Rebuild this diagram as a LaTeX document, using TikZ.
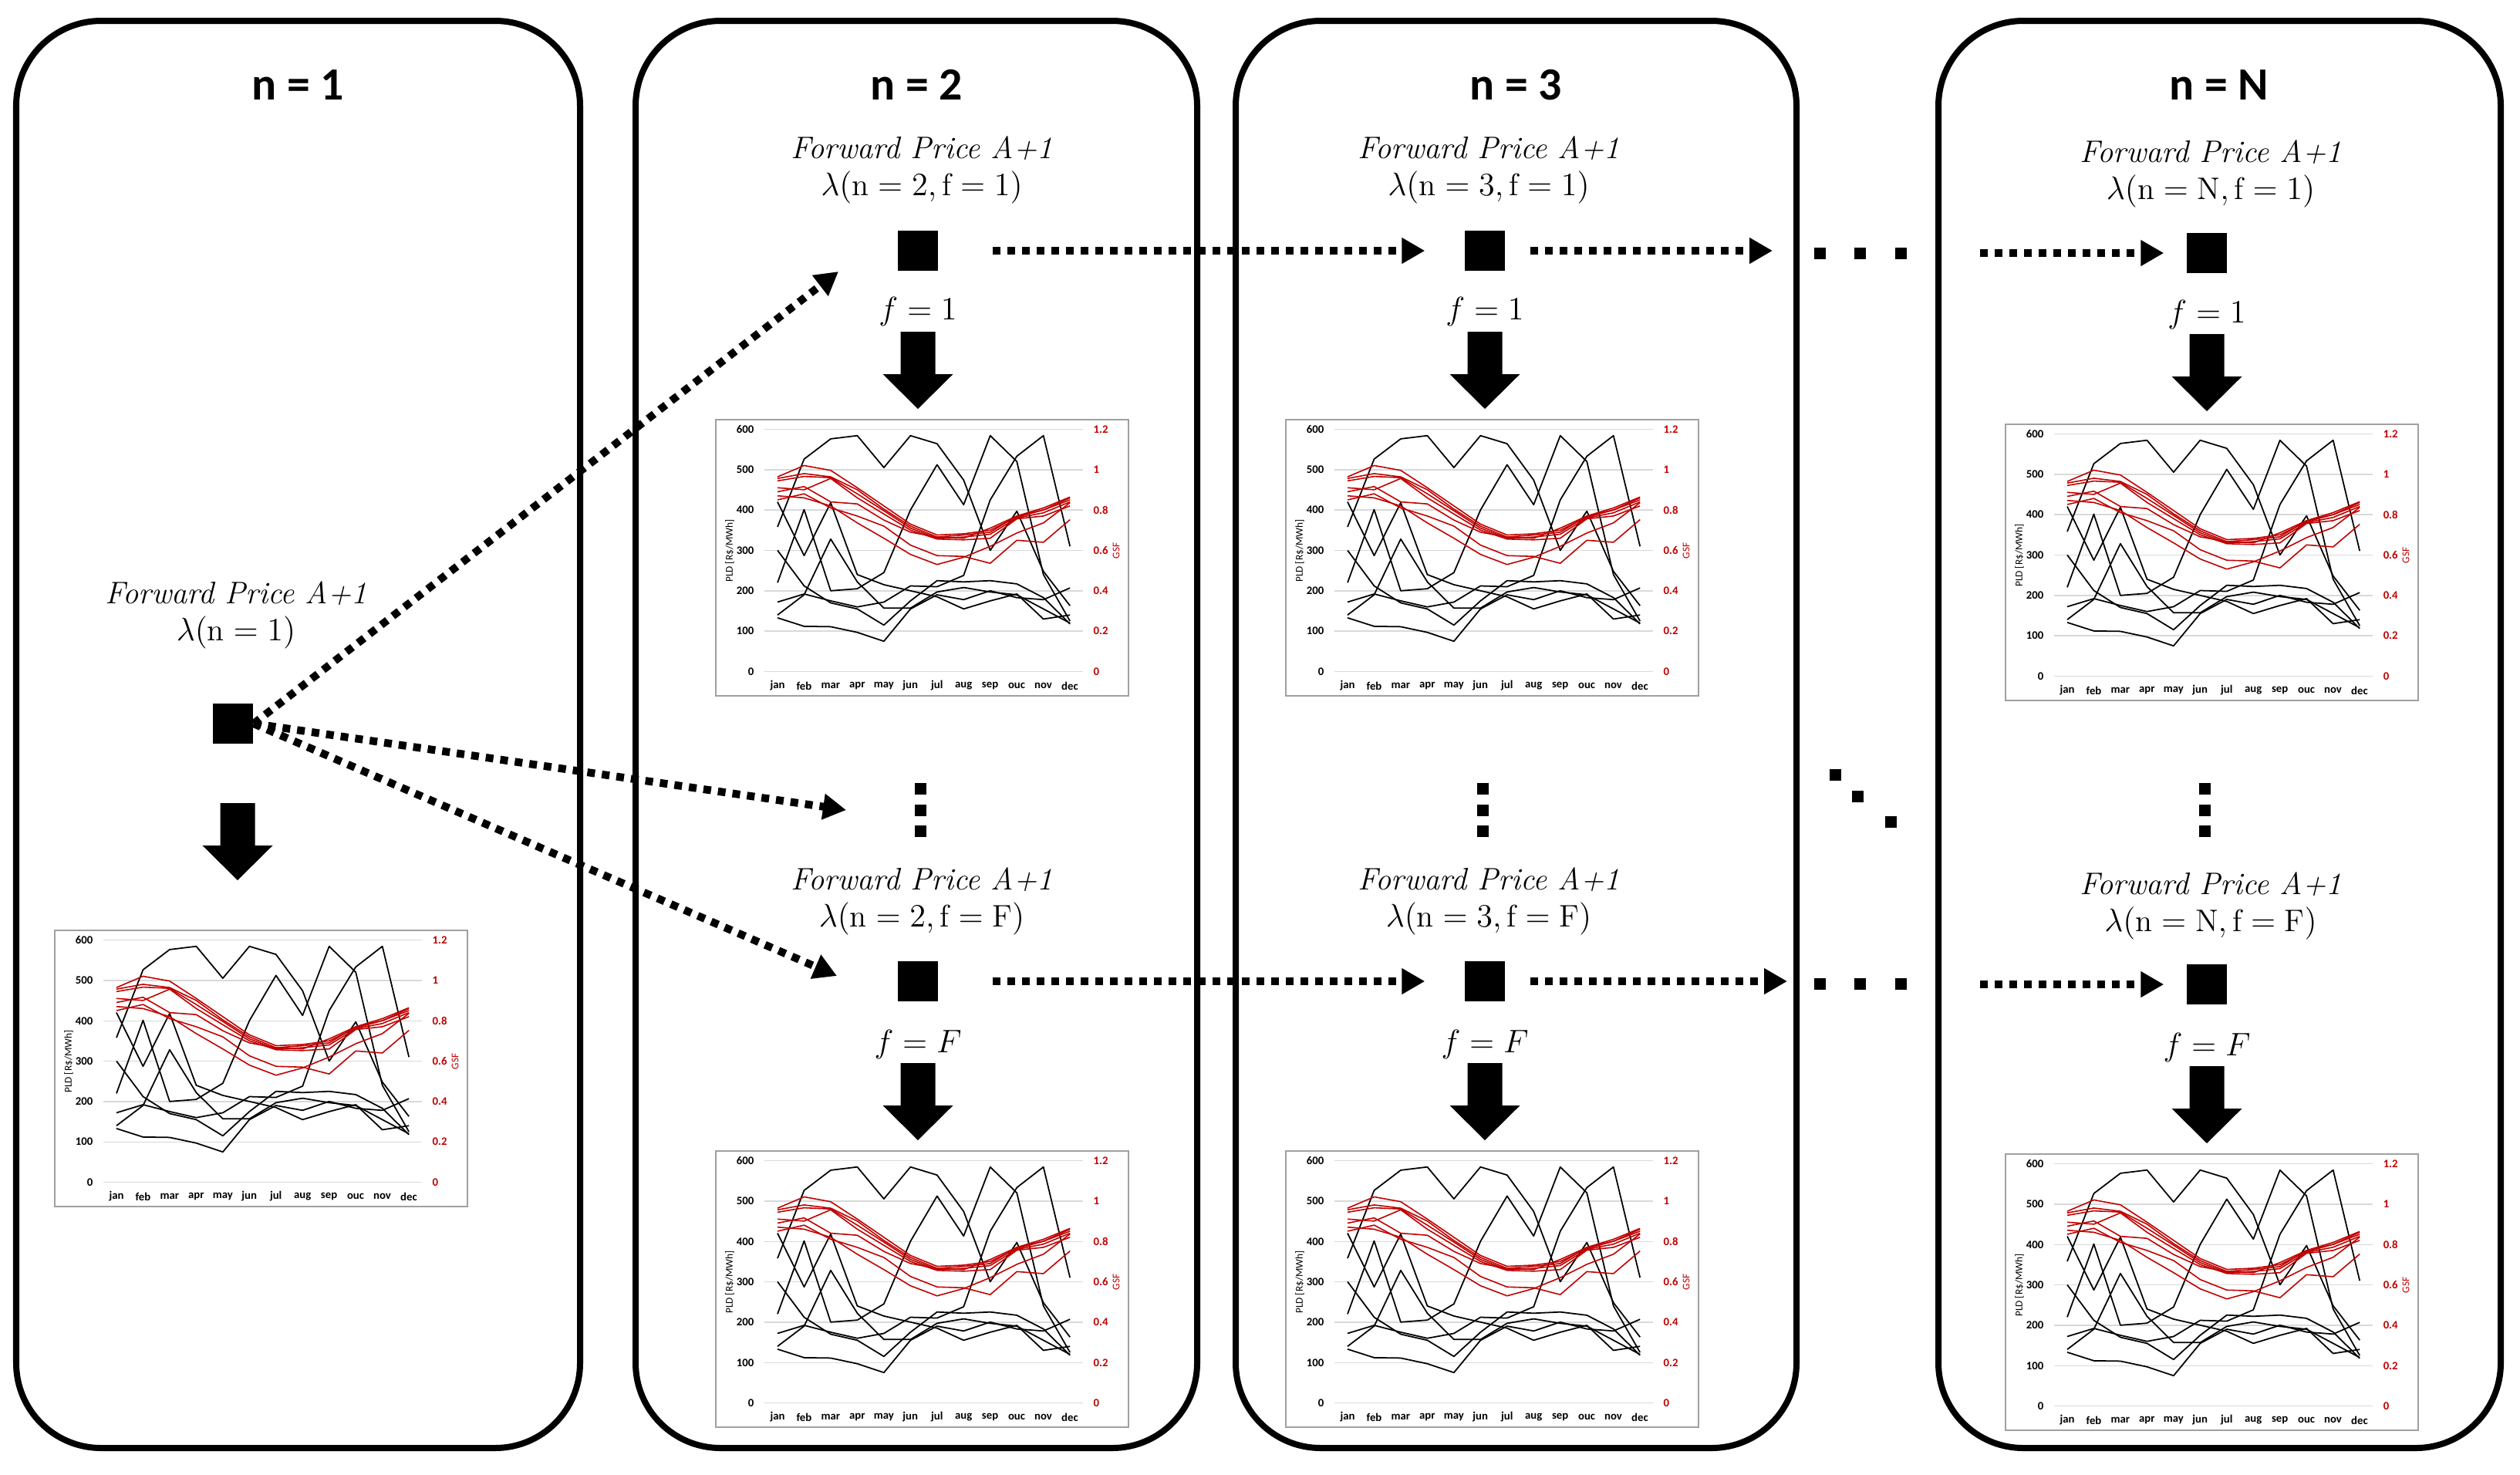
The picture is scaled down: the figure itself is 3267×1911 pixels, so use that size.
\documentclass[tikz,border=0pt]{standalone}
\usepackage{amsmath}
\usepackage{fontspec}
\newfontfamily\chartfont{Carlito}
\usetikzlibrary{arrows.meta, positioning}

\definecolor{gsfred}{RGB}{192,0,0}
\definecolor{gridgray}{RGB}{217,217,217}
\definecolor{framegray}{RGB}{160,160,160}

\newcommand{\blockdown}[2]{%
    \fill ({#1-22.5},#2) -- ({#1+22.5},#2) -- ({#1+22.5},{#2+55}) -- ({#1+45.5},{#2+55})
        -- (#1,{#2+100}) -- ({#1-45.5},{#2+55}) -- ({#1-22.5},{#2+55}) -- cycle;}

\newcommand{\gsfchart}[2]{%
    \begin{scope}[shift={(#1,#2)}]
        \fill[white] (0,0) rectangle (535,358);
        \foreach \val/\gsf in {0/0,100/0.2,200/0.4,300/0.6,400/0.8,500/1,600/1.2} {
            \draw[grid line] (63,{326.5-0.5233*\val}) -- (476,{326.5-0.5233*\val});
            \node[tick label, anchor=east] at (50,{326.5-0.5233*\val}) {\val};
            \node[tick label, text=gsfred, anchor=west] at (489,{326.5-0.5233*\val}) {\gsf};
        }
        \foreach \mon [count=\k from 0] in {jan,feb,mar,apr,may,jun,jul,aug,sep,ouc,nov,dec}
            \node[tick label] at ({80+34.45*\k},345) {\mon};
        \node[axis title, rotate=90] at (18,170) {PLD [R\$/MWh]};
        \node[axis title, text=gsfred, rotate=90] at (519,170) {GSF};
        \begin{scope}[shift={(80,326.5)}, x=0.3445cm, y=0.005233cm]
            \foreach \ja/\fe/\mr/\ap/\my/\jn/\jl/\au/\se/\oc/\nv/\dc in {
                358/526/576/584/505/584/564/474/300/397/248/163,
                220/401/200/205/245/400/512/413/584/520/240/125,
                420/287/418/240/215/200/185/155/175/192/130/140,
                300/212/170/155/115/175/225/222/225/217/183/118,
                172/192/175/160/172/212/210/238/425/533/584/310,
                140/190/328/222/157/157/197/208/197/190/155/120,
                133/112/111/97/75/155/190/178/200/183/178/207}
                \draw[pld line] (0,\ja) -- (1,\fe) -- (2,\mr) -- (3,\ap) -- (4,\my) -- (5,\jn)
                    -- (6,\jl) -- (7,\au) -- (8,\se) -- (9,\oc) -- (10,\nv) -- (11,\dc);
            \foreach \ja/\fe/\mr/\ap/\my/\jn/\jl/\au/\se/\oc/\nv/\dc in {
                482/510/498/455/410/365/338/341/350/382/400/430,
                478/490/482/450/402/360/333/338/345/385/400/425,
                472/483/480/440/398/355/330/333/340/380/393/420,
                455/450/478/430/390/350/328/326/330/378/385/410,
                445/458/420/415/375/345/333/330/355/385/405/432,
                435/430/410/368/330/290/265/283/310/343/368/418,
                425/440/405/385/360/313/287/285/268/325/320/376}
                \draw[gsf line] (0,\ja) -- (1,\fe) -- (2,\mr) -- (3,\ap) -- (4,\my) -- (5,\jn)
                    -- (6,\jl) -- (7,\au) -- (8,\se) -- (9,\oc) -- (10,\nv) -- (11,\dc);
        \end{scope}
        \draw[chart frame] (0,0) rectangle (535,358);
    \end{scope}}

\begin{document}
\begin{tikzpicture}[
        x=0.01cm, y=-0.01cm,
        stage box/.style={line width=0.08cm, rounded corners=1.1cm},
        stage title/.style={font=\chartfont\bfseries\fontsize{17}{20}\selectfont},
        price label/.style={align=center, inner sep=0, font=\fontsize{11.5}{13.6}\selectfont},
        f label/.style={inner sep=0, font=\fontsize{12}{14}\selectfont},
        price node/.style={fill=black, minimum size=0.52cm, inner sep=0},
        ellipsis dot/.style={fill=black, minimum size=0.15cm, inner sep=0},
        dotted link/.style={line width=0.1cm, dash pattern=on 0.1cm off 0.09cm,
            -{Triangle[length=0.3cm, width=0.32cm]}},
        chart frame/.style={draw=framegray, line width=0.5pt},
        grid line/.style={draw=gridgray, line width=0.4pt},
        tick label/.style={inner sep=0, font=\chartfont\bfseries\fontsize{4.2}{5}\selectfont},
        axis title/.style={inner sep=0, font=\chartfont\fontsize{3.8}{4.5}\selectfont},
        pld line/.style={black, line width=0.5pt, line join=round},
        gsf line/.style={gsfred, line width=0.45pt, line join=round}
    ]
    \useasboundingbox (0,0) rectangle (3267,1911);

    \draw[stage box] (21,27) rectangle (752,1877);
    \draw[stage box] (824,27) rectangle (1552,1877);
    \draw[stage box] (1602,27) rectangle (2329,1877);
    \draw[stage box] (2513,27) rectangle (3242,1877);

    \node[stage title] (h1) at (386,110) {n = 1};
    \node[stage title] (h2) at (1188,110) {n = 2};
    \node[stage title] (h3) at (1965,110) {n = 3};
    \node[stage title] (hN) at (2877,110) {n = N};

    \node[price label] (fp1) at (306,797) {\textit{Forward Price A+1}\\$\lambda(\mathrm{n}=1)$};
    \node[price node] (s1) at (302,938) {};
    \blockdown{308}{1041}
    \gsfchart{71}{1206}

    \node[price label] (fp2a) at (1195,220) {\textit{Forward Price A+1}\\$\lambda(\mathrm{n}=2,\mathrm{f}=1)$};
    \node[price node] (s2a) at (1190,325) {};
    \node[f label] (f2a) at (1190,404) {$f=1$};
    \blockdown{1190}{430}
    \gsfchart{928}{544}
    \foreach \y [count=\k] in {1022,1050,1077}
        \node[ellipsis dot] (d2\k) at (1193,\y) {};
    \node[price label] (fp2b) at (1195,1168) {\textit{Forward Price A+1}\\$\lambda(\mathrm{n}=2,\mathrm{f}=\mathrm{F})$};
    \node[price node] (s2b) at (1190,1272) {};
    \node[f label] (f2b) at (1190,1354) {$f=F$};
    \blockdown{1190}{1378}
    \gsfchart{928}{1492}

    \node[price label] (fp3a) at (1930,220) {\textit{Forward Price A+1}\\$\lambda(\mathrm{n}=3,\mathrm{f}=1)$};
    \node[price node] (s3a) at (1925,325) {};
    \node[f label] (f3a) at (1925,404) {$f=1$};
    \blockdown{1925}{430}
    \gsfchart{1667}{544}
    \foreach \y [count=\k] in {1022,1050,1077}
        \node[ellipsis dot] (d3\k) at (1922,\y) {};
    \node[price label] (fp3b) at (1930,1168) {\textit{Forward Price A+1}\\$\lambda(\mathrm{n}=3,\mathrm{f}=\mathrm{F})$};
    \node[price node] (s3b) at (1925,1272) {};
    \node[f label] (f3b) at (1925,1354) {$f=F$};
    \blockdown{1925}{1378}
    \gsfchart{1667}{1492}

    \node[price label] (fpNa) at (2866,225) {\textit{Forward Price A+1}\\$\lambda(\mathrm{n}=\mathrm{N},\mathrm{f}=1)$};
    \node[price node] (sNa) at (2861,328) {};
    \node[f label] (fNa) at (2861,408) {$f=1$};
    \blockdown{2861}{433}
    \gsfchart{2600}{550}
    \foreach \y [count=\k] in {1022,1050,1077}
        \node[ellipsis dot] (dN\k) at (2858,\y) {};
    \node[price label] (fpNb) at (2866,1174) {\textit{Forward Price A+1}\\$\lambda(\mathrm{n}=\mathrm{N},\mathrm{f}=\mathrm{F})$};
    \node[price node] (sNb) at (2861,1276) {};
    \node[f label] (fNb) at (2861,1358) {$f=F$};
    \blockdown{2861}{1382}
    \gsfchart{2600}{1496}

    \foreach \x [count=\k] in {2359,2411,2464} {
        \node[ellipsis dot] (ea\k) at (\x,328) {};
        \node[ellipsis dot] (eb\k) at (\x,1275) {};
    }
    \node[ellipsis dot] (ed1) at (2379,1004) {};
    \node[ellipsis dot] (ed2) at (2408,1032) {};
    \node[ellipsis dot] (ed3) at (2451,1065) {};

    \coordinate (t2a) at (1087,352);
    \coordinate (t2m) at (1097,1050);
    \coordinate (t2b) at (1085,1265);
    \coordinate (t3a) at (2298,325);
    \coordinate (t3b) at (2317,1272);
    \coordinate (uNa) at (2567,328);
    \coordinate (uNb) at (2567,1276);

    \draw[dotted link] (s1.east) -- (t2a);
    \draw[dotted link] (s1.east) -- (t2m);
    \draw[dotted link] (s1.east) -- (t2b);
    \draw[dotted link, shorten <=0.7cm, shorten >=0.51cm] (s2a) -- (s3a);
    \draw[dotted link, shorten <=0.7cm, shorten >=0.51cm] (s2b) -- (s3b);
    \draw[dotted link, shorten <=0.32cm] (s3a.east) -- (t3a);
    \draw[dotted link, shorten <=0.32cm] (s3b.east) -- (t3b);
    \draw[dotted link, shorten >=0.29cm] (uNa) -- (sNa.west);
    \draw[dotted link, shorten >=0.29cm] (uNb) -- (sNb.west);
\end{tikzpicture}
\end{document}
